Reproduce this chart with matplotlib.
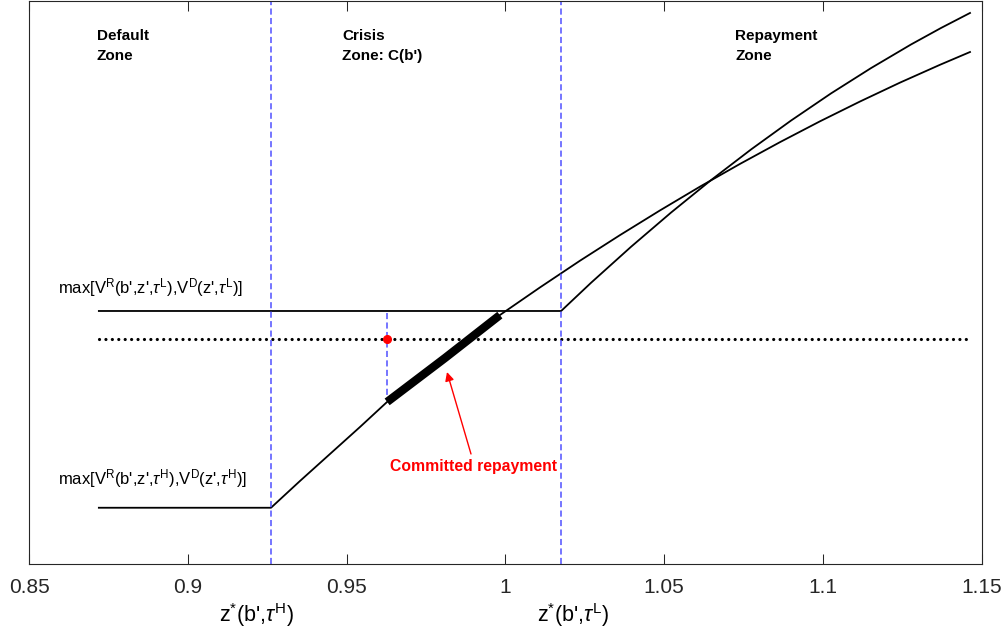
import numpy as np
import matplotlib
matplotlib.use("Agg")
import matplotlib.pyplot as plt
from matplotlib.transforms import blended_transform_factory

plt.rcParams['font.family'] = ['Liberation Sans', 'DejaVu Sans']
plt.rcParams['mathtext.fontset'] = 'custom'
plt.rcParams['mathtext.rm'] = 'Liberation Sans'
plt.rcParams['mathtext.it'] = 'Liberation Sans:italic'
plt.rcParams['mathtext.bf'] = 'Liberation Sans:bold'

# ---- data ----
# value under high tau: flat default value then repayment curve
zH = [0.8720, 0.92622, 0.93535, 0.94480, 0.95425, 0.96276, 0.98102, 0.99835,
      1.01094, 1.02354, 1.03614, 1.04874, 1.06134, 1.07394, 1.08654, 1.09913,
      1.11173, 1.12433, 1.13693, 1.14638]
vH = [0.100, 0.100, 0.1476, 0.1956, 0.2436, 0.2880, 0.3662, 0.4427,
      0.4917, 0.5392, 0.5847, 0.6286, 0.6709, 0.7113, 0.7500, 0.7870,
      0.8222, 0.8558, 0.8875, 0.9102]
# value under low tau
zL = [0.8720, 1.0176, 1.02701, 1.03961, 1.05220, 1.06480, 1.07740, 1.09000,
      1.10260, 1.11520, 1.12780, 1.13724, 1.14638]
vL = [0.4498, 0.4498, 0.4999, 0.5639, 0.6247, 0.6824, 0.7369, 0.7883,
      0.8366, 0.8816, 0.9236, 0.9529, 0.9796]

z_star_H = 0.9262
z_star_L = 1.0176
commit_range = [0.9628, 0.9983]
reference_level = 0.400
dotted_range = [0.8720, 1.1464]
xticks = [0.85, 0.9, 0.95, 1.0, 1.05, 1.1, 1.15]
xtick_labels = ['0.85', '0.9', '0.95', '1', '1.05', '1.1', '1.15']

fig = plt.figure(figsize=(10.06, 6.35), dpi=100)
ax = fig.add_axes([0.02883, 0.11181, 0.94682, 0.88583])
ax.set_xlim(0.85, 1.15)
ax.set_ylim(0, 1)

black_lw = 1.3
ax.plot(zH, vH, color='black', lw=black_lw, solid_joinstyle='round')
ax.plot(zL, vL, color='black', lw=black_lw, solid_joinstyle='round')

# dotted reference level
ax.plot(dotted_range, [reference_level, reference_level], color='black', lw=2.3,
        linestyle=(0, (0.01, 2.0)), dash_capstyle='round')

# thick committed repayment segment
zc = np.linspace(commit_range[0], commit_range[1], 30)
vc = np.interp(zc, zH, vH)
ax.plot(zc, vc, color='black', lw=6, solid_capstyle='butt')

# blue dashed thresholds
blue = '#5050ff'
dash = (0, (4, 2.2))
for zs in (z_star_H, z_star_L):
    ax.axvline(zs, color=blue, lw=1.1, linestyle=dash)
# small dashed at the red point
v_top = np.interp(commit_range[0], zL, vL)
v_bot = np.interp(commit_range[0], zH, vH)
ax.plot([commit_range[0], commit_range[0]], [v_top - 0.004, v_bot + 0.008], color=blue,
        lw=1.1, linestyle=dash)
ax.plot([commit_range[0]], [reference_level], 'o', color='red', markersize=5.5, zorder=5)

# zone labels
zone_kw = dict(fontsize=11, fontweight='bold', va='top', ha='left', linespacing=1.5)
ax.text(0.8714, 0.951, 'Default\nZone', **zone_kw)
ax.text(0.9486, 0.951, "Crisis\nZone: C(b')", **zone_kw)
ax.text(1.0724, 0.951, 'Repayment\nZone', **zone_kw)

# curve labels
lab_fs = 12
ax.text(0.8591, 0.4818, r"max[V$^{\mathrm{R}}$(b',z',$\tau^{\mathrm{L}}$),V$^{\mathrm{D}}$(z',$\tau^{\mathrm{L}}$)]",
        fontsize=lab_fs, ha='left', va='baseline')
ax.text(0.8591, 0.1422, r"max[V$^{\mathrm{R}}$(b',z',$\tau^{\mathrm{H}}$),V$^{\mathrm{D}}$(z',$\tau^{\mathrm{H}}$)]",
        fontsize=lab_fs, ha='left', va='baseline')

# annotation
ax.annotate('', xy=(0.98165, 0.3413), xytext=(0.98921, 0.1956),
            arrowprops=dict(arrowstyle='-|>', color='red', lw=1.0, mutation_scale=13,
                            shrinkA=0, shrinkB=0))
ax.text(0.9900, 0.1742, 'Committed repayment', color='red', fontsize=11.3,
        fontweight='bold', ha='center', va='center')

# threshold labels below axis
tr = blended_transform_factory(ax.transData, ax.transAxes)
ax.text(0.9217, -0.103, r"z$^{*}$(b',$\tau^{\mathrm{H}}$)", transform=tr, fontsize=15.5,
        ha='center', va='baseline')
ax.text(1.0213, -0.103, r"z$^{*}$(b',$\tau^{\mathrm{L}}$)", transform=tr, fontsize=15.5,
        ha='center', va='baseline')

ax.set_xticks(xticks)
ax.set_xticklabels(xtick_labels, fontsize=15)
ax.set_yticks([])
ax.tick_params(axis='x', direction='in', length=7.2, width=0.75, top=True, pad=10,
               colors='#262626', labelcolor='#262626')
for s in ax.spines.values():
    s.set_linewidth(0.8)
    s.set_color('#262626')

fig.savefig('out.png', dpi=100)
